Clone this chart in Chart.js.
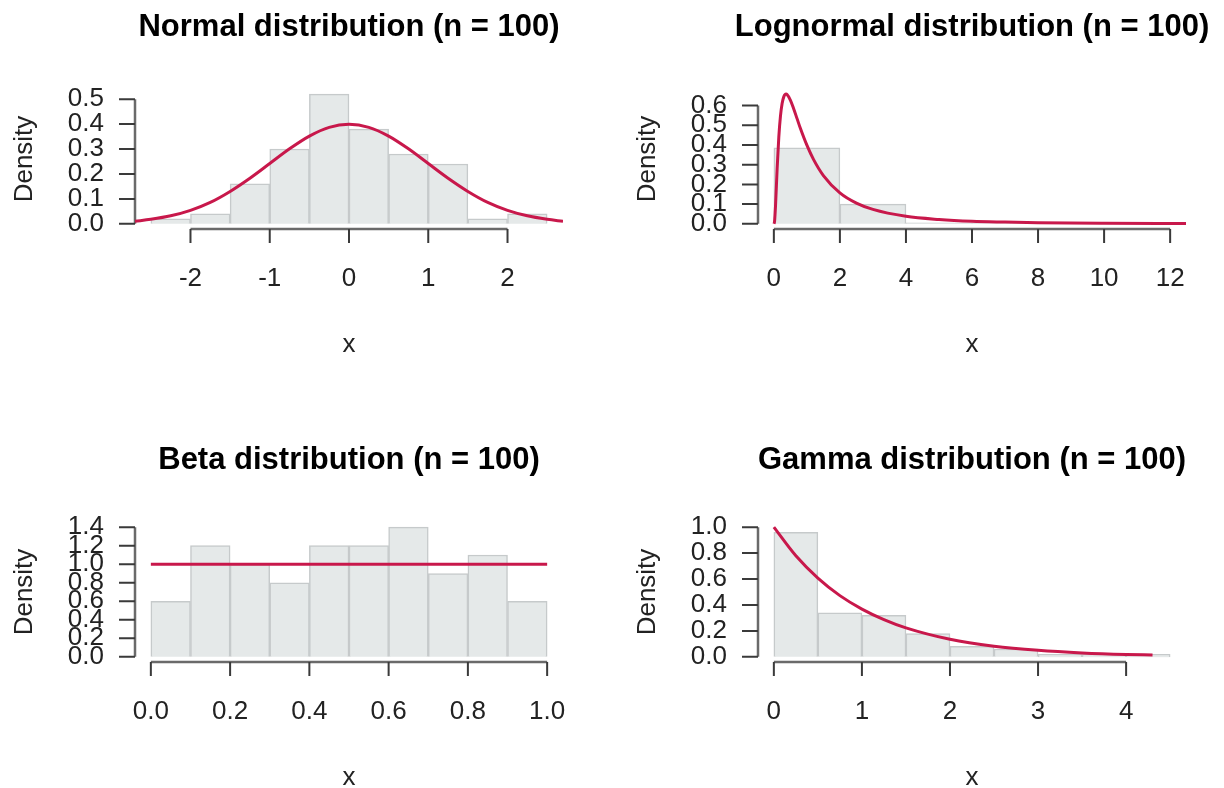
<!DOCTYPE html>
<html lang="en">
<head>
<meta charset="UTF-8">
<title>Distributions (n = 100)</title>
<script src="https://cdn.jsdelivr.net/npm/chart.js"></script>
<style>
  html, body { margin: 0; padding: 0; background: #fff; overflow: hidden; }
  body { width: 1224px; height: 788px; position: relative; }
  /* each canvas is symmetric about its plot so the title centres over it */
  .panel { position: absolute; width: 698px; height: 400px; }
  .panel canvas { display: block; }
</style>
</head>
<body>
  <div class="panel" style="left:0;top:0"><canvas id="normalChart" width="698" height="400"></canvas></div>
  <div class="panel" style="left:623px;top:0"><canvas id="lognormalChart" width="698" height="400"></canvas></div>
  <div class="panel" style="left:0;top:433px"><canvas id="betaChart" width="698" height="400"></canvas></div>
  <div class="panel" style="left:623px;top:433px"><canvas id="gammaChart" width="698" height="400"></canvas></div>

<script>
// Normal: histogram bins of width 0.5, density curve
const normalBinMids = [-2.25, -1.75, -1.25, -0.75, -0.25, 0.25, 0.75, 1.25, 1.75, 2.25];
const normalDensity = [0.02, 0.04, 0.16, 0.30, 0.52, 0.38, 0.28, 0.24, 0.02, 0.04];
const normalCurveX = [-2.7, -2.5, -2.25, -2, -1.75, -1.5, -1.25, -1, -0.75, -0.5, -0.25, 0,
                      0.25, 0.5, 0.75, 1, 1.25, 1.5, 1.75, 2, 2.25, 2.5, 2.7];
const normalCurveY = [0.010, 0.018, 0.032, 0.054, 0.086, 0.130, 0.183, 0.242, 0.301, 0.352, 0.387, 0.399,
                      0.387, 0.352, 0.301, 0.242, 0.183, 0.130, 0.086, 0.054, 0.032, 0.018, 0.010];
const normalXTicks = [-2, -1, 0, 1, 2];
const normalYTicks = [0, 0.1, 0.2, 0.3, 0.4, 0.5];

// Lognormal: bins of width 2
const lognormalBinMids = [1, 3, 5, 7, 9, 11];
const lognormalDensity = [0.385, 0.1, 0.005, 0.005, 0, 0.005];
const lognormalCurveX = [0, 0.02, 0.05, 0.1, 0.15, 0.2, 0.25, 0.3, 0.37, 0.4, 0.5, 0.6, 0.7, 0.8, 1,
                         1.2, 1.5, 2, 2.5, 3, 4, 5, 6, 7, 8, 10, 12.48];
const lognormalCurveY = [0, 0.010, 0.090, 0.282, 0.440, 0.546, 0.610, 0.644, 0.658, 0.656, 0.628, 0.584, 0.535, 0.486, 0.399,
                         0.327, 0.245, 0.157, 0.105, 0.073, 0.038, 0.022, 0.013, 0.009, 0.006, 0.003, 0.001];
const lognormalXTicks = [0, 2, 4, 6, 8, 10, 12];
const lognormalYTicks = [0, 0.1, 0.2, 0.3, 0.4, 0.5, 0.6];

// Beta: bins of width 0.1
const betaBinMids = [0.05, 0.15, 0.25, 0.35, 0.45, 0.55, 0.65, 0.75, 0.85, 0.95];
const betaDensity = [0.6, 1.2, 1.0, 0.8, 1.2, 1.2, 1.4, 0.9, 1.1, 0.6];
const betaCurveX = [0, 1];
const betaCurveY = [1, 1];
const betaXTicks = [0, 0.2, 0.4, 0.6, 0.8, 1.0];
const betaYTicks = [0, 0.2, 0.4, 0.6, 0.8, 1.0, 1.2, 1.4];

// Gamma: bins of width 0.5
const gammaBinMids = [0.25, 0.75, 1.25, 1.75, 2.25, 2.75, 3.25, 3.75, 4.25];
const gammaDensity = [0.96, 0.34, 0.32, 0.18, 0.08, 0.06, 0.02, 0.02, 0.02];
const gammaCurveX = [0, 0.25, 0.5, 0.75, 1, 1.25, 1.5, 2, 2.5, 3, 3.5, 4, 4.3];
const gammaCurveY = [1, 0.779, 0.607, 0.472, 0.368, 0.287, 0.223, 0.135, 0.082, 0.050, 0.030, 0.018, 0.014];
const gammaXTicks = [0, 1, 2, 3, 4];
const gammaYTicks = [0, 0.2, 0.4, 0.6, 0.8, 1.0];

const FONT = '"Liberation Sans", Arial, Helvetica, sans-serif';
const BAR_FILL = '#e5e9e9';
const BAR_EDGE = '#c6cacb';
const CURVE = '#c8184b';

Chart.defaults.font.family = FONT;

// R-style axes: line spans first..last tick, ticks point outward
const rAxes = {
  id: 'rAxes',
  beforeDatasetsDraw(chart) {
    const { ctx, chartArea, scales: { x, y } } = chart;
    const xt = x.ticks.map(t => x.getPixelForValue(t.value));
    const yt = y.ticks.map(t => y.getPixelForValue(t.value));
    ctx.save();
    ctx.strokeStyle = '#6a6a6a';
    ctx.lineWidth = 2.5;
    ctx.beginPath();
    ctx.moveTo(xt[0], chartArea.bottom);
    ctx.lineTo(xt[xt.length - 1], chartArea.bottom);
    ctx.moveTo(chartArea.left, yt[0]);
    ctx.lineTo(chartArea.left, yt[yt.length - 1]);
    ctx.stroke();
    ctx.strokeStyle = '#3a3a3a';
    ctx.lineWidth = 2;
    ctx.beginPath();
    xt.forEach(px => { ctx.moveTo(px, chartArea.bottom); ctx.lineTo(px, chartArea.bottom + 14); });
    yt.forEach(py => { ctx.moveTo(chartArea.left, py); ctx.lineTo(chartArea.left - 16, py); });
    ctx.stroke();
    ctx.restore();
  }
};

function makePanel(id, title, mids, dens, cx, cy, xTicks, yTicks, xLim, yLim, xFmt) {
  new Chart(document.getElementById(id), {
    type: 'bar',
    data: {
      datasets: [
        {
          type: 'line',
          data: cx.map((v, i) => ({ x: v, y: cy[i] })),
          borderColor: CURVE,
          borderWidth: 3,
          pointRadius: 0,
          fill: false,
          cubicInterpolationMode: 'monotone',
          order: 0
        },
        {
          type: 'bar',
          data: mids.map((v, i) => ({ x: v, y: dens[i] })),
          backgroundColor: BAR_FILL,
          borderColor: BAR_EDGE,
          borderWidth: 1.5,
          barPercentage: 1,
          categoryPercentage: 1,
          order: 1
        }
      ]
    },
    options: {
      responsive: false,
      maintainAspectRatio: false,
      devicePixelRatio: 1,
      animation: false,
      layout: { padding: { top: 0, right: 0, bottom: 39.4, left: 0 } },
      plugins: {
        legend: { display: false },
        tooltip: { enabled: false },
        title: {
          display: true,
          text: title,
          color: '#000',
          font: { size: 31, weight: 'bold', lineHeight: 1.2 },
          padding: { top: 8.4, bottom: 43.4 }
        }
      },
      scales: {
        x: {
          type: 'linear',
          min: xLim[0],
          max: xLim[1],
          offset: false,
          afterBuildTicks: s => { s.ticks = xTicks.map(v => ({ value: v })); },
          afterFit: s => { s.height = 131.6; },
          grid: { display: false, drawTicks: false },
          border: { display: false },
          ticks: {
            autoSkip: false, maxRotation: 0, padding: 34.4, color: '#222',
            font: { size: 26, lineHeight: 1.2 },
            callback: v => xFmt(v)
          },
          title: { display: true, text: 'x', color: '#222', font: { size: 26, lineHeight: 1.2 }, padding: 0 }
        },
        y: {
          type: 'linear',
          min: yLim[0],
          max: yLim[1],
          afterBuildTicks: s => { s.ticks = yTicks.map(v => ({ value: v })); },
          afterFit: s => { s.width = 135; },
          grid: { display: false, drawTicks: false },
          border: { display: false },
          ticks: {
            autoSkip: false, padding: 31, color: '#222',
            font: { size: 26, lineHeight: 1.2 },
            callback: v => v.toFixed(1)
          },
          title: { display: true, text: 'Density', color: '#222', font: { size: 26, lineHeight: 1.2 }, padding: { top: 9, bottom: 0 } }
        },
        // empty right-hand margin, same width as the left axis
        margin: {
          type: 'linear',
          position: 'right',
          afterFit: s => { s.width = 135; },
          grid: { display: false, drawTicks: false },
          border: { display: false },
          ticks: { display: false }
        }
      }
    },
    plugins: [rAxes]
  });
}

const intFmt = v => String(v);
const decFmt = v => v.toFixed(1);

makePanel('normalChart', 'Normal distribution (n = 100)', normalBinMids, normalDensity,
  normalCurveX, normalCurveY, normalXTicks, normalYTicks, [-2.7, 2.7], [-0.0208, 0.5408], intFmt);
makePanel('lognormalChart', 'Lognormal distribution (n = 100)', lognormalBinMids, lognormalDensity,
  lognormalCurveX, lognormalCurveY, lognormalXTicks, lognormalYTicks, [-0.48, 12.48], [-0.0263, 0.684], intFmt);
makePanel('betaChart', 'Beta distribution (n = 100)', betaBinMids, betaDensity,
  betaCurveX, betaCurveY, betaXTicks, betaYTicks, [-0.04, 1.04], [-0.056, 1.456], decFmt);
makePanel('gammaChart', 'Gamma distribution (n = 100)', gammaBinMids, gammaDensity,
  gammaCurveX, gammaCurveY, gammaXTicks, gammaYTicks, [-0.18, 4.68], [-0.04, 1.04], intFmt);
</script>
</body>
</html>
